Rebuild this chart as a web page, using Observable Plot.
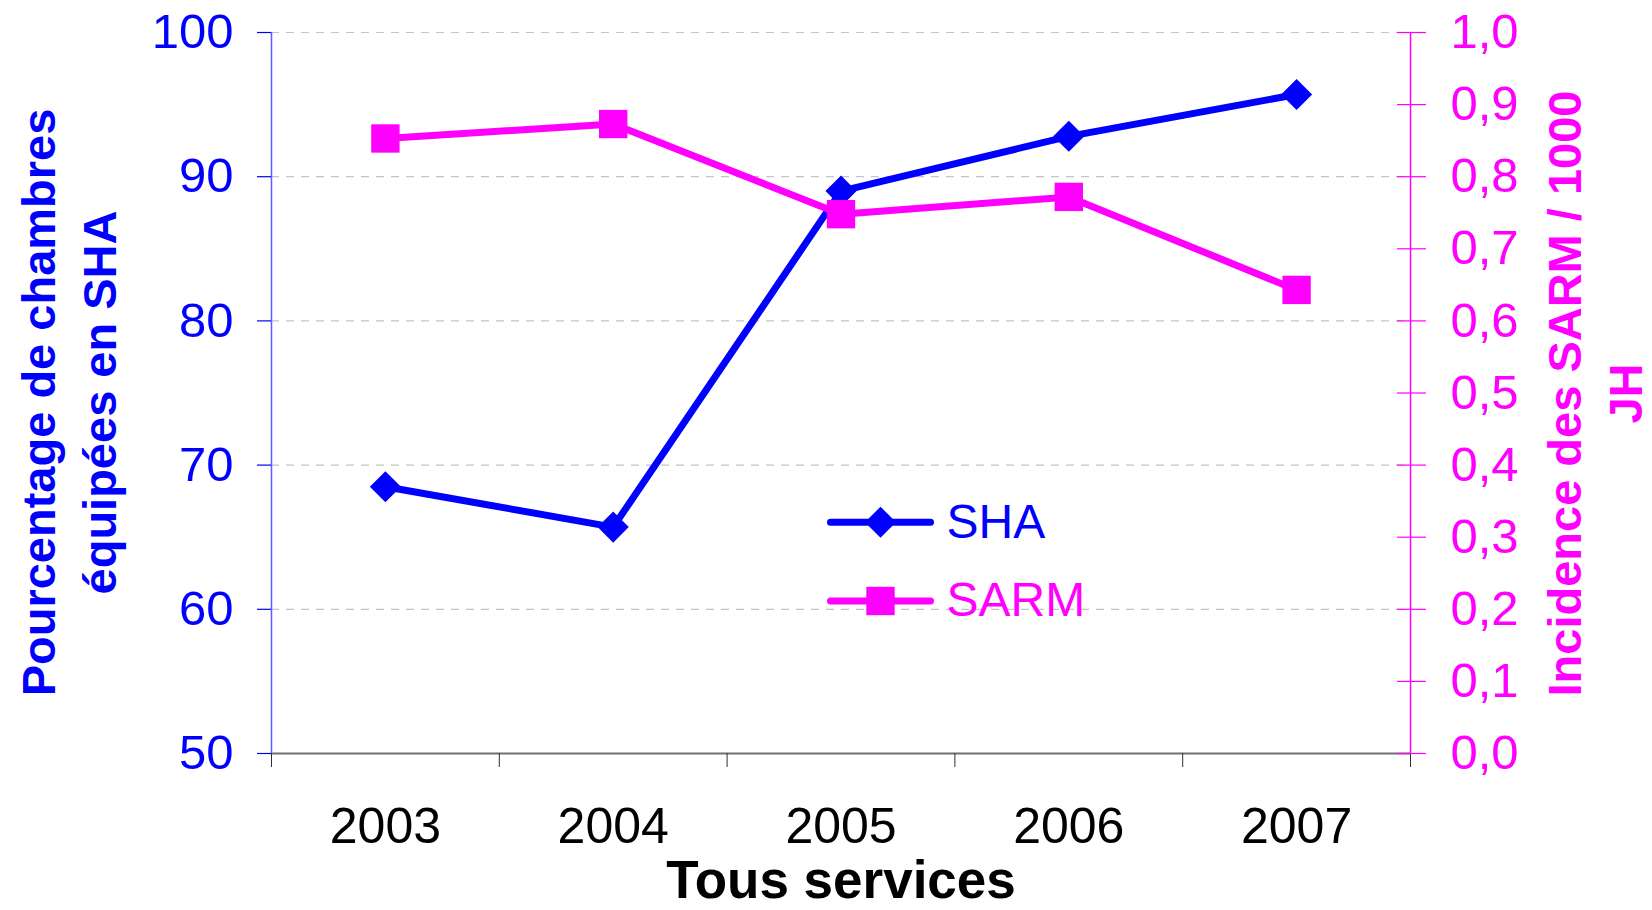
<!DOCTYPE html>
<html>
<head>
<meta charset="utf-8">
<script src="https://cdn.jsdelivr.net/npm/d3@7"></script>
<script src="https://cdn.jsdelivr.net/npm/@observablehq/plot@0.6"></script>
<style>
  html, body { margin: 0; padding: 0; background: #fff; overflow: hidden; }
  #chart { width: 1652px; height: 910px; }
</style>
</head>
<body>
<div id="chart"></div>
<script>
// ---- data ----
const years = [2003, 2004, 2005, 2006, 2007];
const sha = [68.5, 65.7, 89.0, 92.8, 95.7];          // % chambres équipées en SHA (left axis)
const sarm = [0.853, 0.873, 0.748, 0.772, 0.643];    // incidence SARM / 1000 JH (right axis)
const leftTicks = [50, 60, 70, 80, 90, 100];
const rightTicks = [0, 0.1, 0.2, 0.3, 0.4, 0.5, 0.6, 0.7, 0.8, 0.9, 1.0];
const seriesNames = ["SHA", "SARM"];
const xTitle = "Tous services";
const leftTitle = "Pourcentage de chambres\néquipées en SHA";
const rightTitle = "Incidence des SARM / 1000\nJH";

// ---- scales ----
const leftDomain = [50, 100];
const rightDomain = [0, 1];
const toLeft = v => leftDomain[0] + (v - rightDomain[0]) * (leftDomain[1] - leftDomain[0]) / (rightDomain[1] - rightDomain[0]);
const xDomain = [years[0] - 0.5, years[years.length - 1] + 0.5];
const boundaries = d3.range(xDomain[0], xDomain[1] + 0.01, 1);

const table = years.map((year, i) => ({year, sha: sha[i], sarm: sarm[i]}));

const BLUE = "#0000ff";
const MAGENTA = "#ff00ff";

const W = 1652, H = 910;
const mL = 271, mR = 242, mT = 32, mB = 157;
const frameMidY = (mT + H - mB) / 2;

const lineSymbol = {draw(ctx) { ctx.moveTo(-50, 0); ctx.lineTo(50, 0); }};

const chart = Plot.plot({
  width: W,
  height: H,
  marginLeft: mL,
  marginRight: mR,
  marginTop: mT,
  marginBottom: mB,
  style: {fontFamily: "'Liberation Sans', Arial, sans-serif", background: "#fff"},
  x: {type: "linear", domain: xDomain},
  y: {domain: leftDomain},
  marks: [
    // dashed grid
    Plot.gridY(leftTicks.filter(t => t > leftDomain[0]), {stroke: "#c4c4c4", strokeOpacity: 1, strokeWidth: 1.2, strokeDasharray: "8,7"}),
    // baseline
    Plot.ruleY([leftDomain[0]], {stroke: "#707070", strokeWidth: 2}),
    // axis lines
    Plot.ruleX([xDomain[0]], {stroke: "#5a5aff", strokeWidth: 1.5}),
    Plot.ruleX([xDomain[1]], {stroke: MAGENTA, strokeWidth: 1.5}),
    // x category boundary ticks
    Plot.axisX({ticks: boundaries, tickSize: 14, tickFormat: () => "", stroke: "#303030", strokeWidth: 1, label: null}),
    // x year labels
    Plot.axisX({ticks: years, tickSize: 0, tickPadding: 54, tickFormat: d => `${d}`, fontSize: 50, fill: "#000", label: null}),
    // left axis
    Plot.axisY({ticks: leftTicks, anchor: "left", tickSize: 14, tickPadding: 24, fontSize: 49, stroke: BLUE, fill: BLUE, strokeWidth: 1.2, label: null}),
    // right axis (mapped onto left scale)
    Plot.axisY({ticks: rightTicks.map(toLeft), anchor: "right", tickSize: 29, dx: -14, tickPadding: 25,
      tickFormat: v => ((v - leftDomain[0]) / (leftDomain[1] - leftDomain[0])).toFixed(1).replace(".", ","),
      fontSize: 49, stroke: MAGENTA, fill: MAGENTA, strokeWidth: 1.2, label: null}),
    // titles
    Plot.text([xTitle], {text: d => d, frameAnchor: "bottom", dy: 107, lineAnchor: "top", fontSize: 53, fontWeight: "bold", fill: "#000"}),
    Plot.text([leftTitle], {text: d => d, frameAnchor: "left", dx: 65.5 - mL, dy: 402 - frameMidY, rotate: -90, lineAnchor: "middle", textAnchor: "middle", lineHeight: 1.3, fontSize: 47, fontWeight: "bold", fill: BLUE}),
    Plot.text([rightTitle], {text: d => d, frameAnchor: "right", dx: 1591 - (W - mR), dy: 393 - frameMidY, rotate: -90, lineAnchor: "middle", textAnchor: "middle", lineHeight: 1.3, fontSize: 47, fontWeight: "bold", fill: MAGENTA}),
    // SHA series
    Plot.line(table, {x: "year", y: "sha", stroke: BLUE, strokeWidth: 7, strokeLinejoin: "round"}),
    Plot.dot(table, {x: "year", y: "sha", symbol: "diamond2", r: 14, fill: BLUE, stroke: "none"}),
    // SARM series
    Plot.line(table, {x: "year", y: d => toLeft(d.sarm), stroke: MAGENTA, strokeWidth: 7, strokeLinejoin: "round"}),
    Plot.dot(table, {x: "year", y: d => toLeft(d.sarm), symbol: "square", r: 16, fill: MAGENTA, stroke: "none"}),
    // legend
    Plot.dot([seriesNames[0]], {frameAnchor: "top-left", dx: 880 - mL, dy: 521.7 - mT, symbol: lineSymbol, r: 1, fill: "none", stroke: BLUE, strokeWidth: 7, strokeLinecap: "round"}),
    Plot.dot([seriesNames[0]], {frameAnchor: "top-left", dx: 880 - mL, dy: 521.7 - mT, symbol: "diamond2", r: 14, fill: BLUE, stroke: "none"}),
    Plot.text([seriesNames[0]], {text: d => d, frameAnchor: "top-left", dx: 946 - mL, dy: 521.7 - mT, textAnchor: "start", lineAnchor: "middle", fontSize: 48, fill: BLUE}),
    Plot.dot([seriesNames[1]], {frameAnchor: "top-left", dx: 880 - mL, dy: 600.5 - mT, symbol: lineSymbol, r: 1, fill: "none", stroke: MAGENTA, strokeWidth: 7, strokeLinecap: "round"}),
    Plot.dot([seriesNames[1]], {frameAnchor: "top-left", dx: 880 - mL, dy: 600.5 - mT, symbol: "square", r: 16, fill: MAGENTA, stroke: "none"}),
    Plot.text([seriesNames[1]], {text: d => d, frameAnchor: "top-left", dx: 946 - mL, dy: 600.5 - mT, textAnchor: "start", lineAnchor: "middle", fontSize: 48, fill: MAGENTA})
  ]
});
document.getElementById("chart").appendChild(chart);
</script>
</body>
</html>
